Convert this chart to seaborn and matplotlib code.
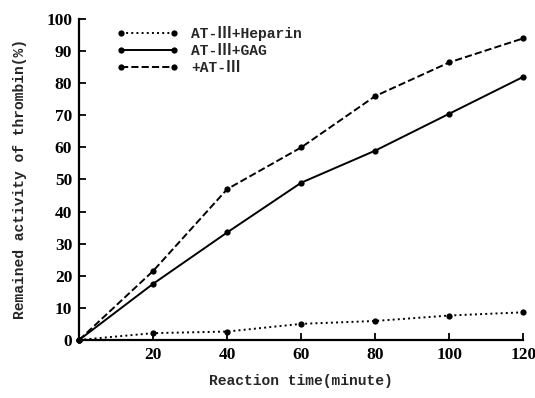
import pandas as pd
import matplotlib
matplotlib.use("Agg")
import matplotlib.pyplot as plt
import seaborn as sns

# data
time_min = [0, 20, 40, 60, 80, 100, 120]
heparin = [0, 2.1, 2.6, 5.0, 5.9, 7.6, 8.6]
gag = [0, 17.5, 33.5, 49.0, 59.0, 70.5, 82.0]
at3 = [0, 21.5, 47.0, 60.0, 76.0, 86.5, 94.0]
series_names = ["AT-\u2162+Heparin", "AT-\u2162+GAG", "+AT-\u2162"]
x_ticks = [20, 40, 60, 80, 100, 120]
y_ticks = [0, 10, 20, 30, 40, 50, 60, 70, 80, 90, 100]

df = pd.DataFrame({
    "time": time_min * 3,
    "activity": heparin + gag + at3,
    "group": [series_names[0]] * 7 + [series_names[1]] * 7 + [series_names[2]] * 7,
})

sns.set_style("ticks")
plt.rcParams["font.family"] = ["Liberation Mono", "Noto Sans CJK SC"]

fig = plt.figure(figsize=(5.35, 3.98), dpi=100)
ax = fig.add_axes([0.148, 0.146, 0.830, 0.806])

styles = {series_names[0]: ":", series_names[1]: "-", series_names[2]: "--"}
for name in series_names:
    sub = df[df["group"] == name]
    sns.lineplot(data=sub, x="time", y="activity", ax=ax, color="black",
                 linestyle=styles[name], linewidth=1.4, marker="o",
                 markersize=4.5, markeredgewidth=0, label=name, clip_on=False)

ax.set_xlim(0, 120)
ax.set_ylim(0, 100)
ax.set_xticks(x_ticks)
ax.set_yticks(y_ticks)
sns.despine(ax=ax)
for sp in ["left", "bottom"]:
    ax.spines[sp].set_linewidth(1.6)
    ax.spines[sp].set_color("black")
ax.tick_params(direction="in", length=5, width=1.3, colors="black", pad=5)
for lab in ax.get_xticklabels() + ax.get_yticklabels():
    lab.set_family(["Liberation Serif"])
    lab.set_fontweight("bold")
    lab.set_fontsize(12.5)

ax.set_xlabel("Reaction time(minute)", fontsize=10.5, fontweight="bold", labelpad=8)
ax.set_ylabel("Remained activity of thrombin(%)", fontsize=10.5, fontweight="bold", labelpad=14)

leg = ax.legend(loc="upper left", bbox_to_anchor=(0.055, 1.02), frameon=False,
                numpoints=2, handlelength=4.2, handletextpad=0.9,
                labelspacing=0.2, prop={"size": 10.5, "weight": "bold",
                                        "family": ["Liberation Mono", "Noto Sans CJK SC"]})

fig.savefig("out.png", dpi=100)
